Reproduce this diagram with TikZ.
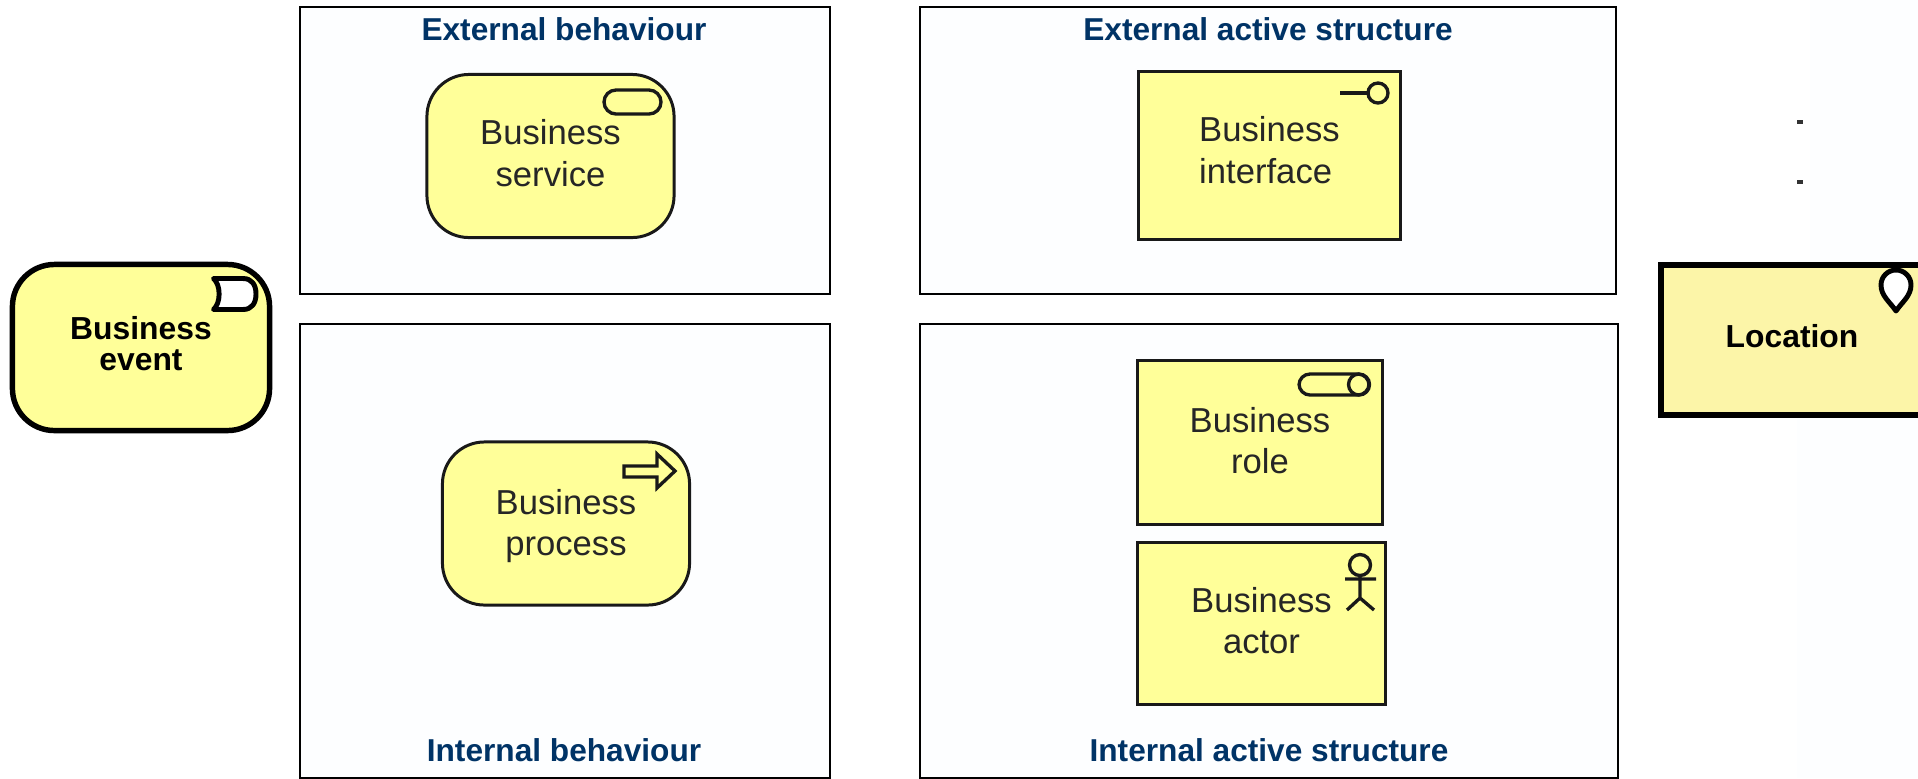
\documentclass[tikz,border=0pt]{standalone}
\usepackage{fontspec}
\setmainfont{Liberation Sans}
\definecolor{biz}{RGB}{255,255,153}
\definecolor{loc}{RGB}{252,245,168}
\definecolor{navy}{RGB}{0,51,102}
\definecolor{pale}{RGB}{253,254,255}
\begin{document}
\begin{tikzpicture}[
		x=0.01cm,y=-0.01cm,
		frame/.style={draw=black,fill=pale,line width=0.55pt,inner sep=0pt},
		head/.style={text=navy,font=\fontsize{9}{10}\selectfont\bfseries,inner sep=0pt,anchor=base},
		elem/.style={draw=black!90,fill=biz,line width=0.85pt,inner sep=0pt,align=center,text=black!85,font=\fontsize{9.85}{11.8}\selectfont},
		heavy/.style={draw=black,line width=1.55pt,text=black,font=\fontsize{9.05}{8.82}\selectfont\bfseries},
		lastline/.style={text height=#1,text depth=0pt},
		svc/.style={elem,rounded corners=0.42cm,minimum width=2.47cm,minimum height=1.63cm},
		icon/.style={draw=black!90,line width=0.95pt},
		boldicon/.style={draw=black,line width=1.4pt,fill=white,line join=round}
	]
	\useasboundingbox (0,0) rectangle (1918,778);
	\fill[pale] (1810,0) rectangle (1918,260);
	\fill[pale] (1797,260) rectangle (1918,778);
	
	%frames
		\node[frame,minimum width=5.295cm,minimum height=2.87cm] (extbeh) at (564.75,150.5) {};
		\node[frame,minimum width=5.295cm,minimum height=4.535cm] (intbeh) at (564.75,550.75) {};
		\node[frame,minimum width=6.96cm,minimum height=2.87cm] (extact) at (1268,150.5) {};
		\node[frame,minimum width=6.98cm,minimum height=4.535cm] (intact) at (1269,550.75) {};
	%headings
		\node[head] (extbehtxt) at (564,40) {External behaviour};
		\node[head] (extacttxt) at (1268,40) {External active structure};
		\node[head] (intbehtxt) at (564,761) {Internal behaviour};
		\node[head] (intacttxt) at (1269,761) {Internal active structure};
	
	%elements
		\node[svc,lastline=0.60cm] (service) at (550.5,156) {Business\\service};
		\node[svc,lastline=0.64cm] (process) at (566,523.5) {Business\\process};
		\node[elem,lastline=0.55cm,align=left,minimum width=2.62cm,minimum height=1.68cm] (interface) at (1269.5,155.5) {Business\\interface};
		\node[elem,lastline=0.62cm,minimum width=2.45cm,minimum height=1.64cm] (role) at (1260,442.5) {Business\\role};
		\node[elem,lastline=0.60cm,minimum width=2.48cm,minimum height=1.62cm] (actor) at (1261.5,623.5) {Business\\actor};
		\node[svc,heavy,lastline=0.45cm,minimum width=2.57cm,minimum height=1.66cm] (event) at (141,347.5) {Business\\event};
		\node[elem,heavy,fill=loc,lastline=0.14cm,minimum width=2.62cm,minimum height=1.5cm] (location) at (1792,340) {Location};
	
	%icons
		\draw[icon,rounded corners=0.12cm] (604,90) rectangle (661,114);
		\draw[icon] (624,466) -- (657,466) -- (657,454) -- (675,471) -- (657,488) -- (657,477) -- (624,477) -- cycle;
		\draw[icon] (1340,93) -- (1368,93);
		\draw[icon] (1378,93) circle[radius=0.1cm];
		\draw[icon,rounded corners=0.11cm] (1299,374) rectangle (1369,395);
		\draw[icon] (1359,384.5) circle[radius=0.105cm];
		\draw[icon] (1360,565) circle[radius=0.105cm];
		\draw[icon] (1360,576) -- (1360,598) (1345,579) -- (1376,579) (1347,610) -- (1360,598) -- (1374,610);
		\draw[boldicon] (213.5,278.5) -- (243,278.5) .. controls (252,278.5) and (256,285) .. (256,294) .. controls (256,303) and (252,309.5) .. (243,309.5) -- (213.5,309.5) .. controls (221,303) and (221,285) .. (213.5,278.5) -- cycle;
		\draw[boldicon] (1896,311) .. controls (1890,302) and (1881,296) .. (1881,285) .. controls (1881,276.7) and (1887.7,270) .. (1896,270) .. controls (1904.3,270) and (1911,276.7) .. (1911,285) .. controls (1911,296) and (1902,302) .. (1896,311) -- cycle;
	
	%stray marks
		\foreach \x/\y in {1/122, 2/182}
			\node[fill=black!80,inner sep=0pt,minimum width=0.06cm,minimum height=0.035cm] (tick\x) at (1800,\y) {};
	\end{tikzpicture}
\end{document}
